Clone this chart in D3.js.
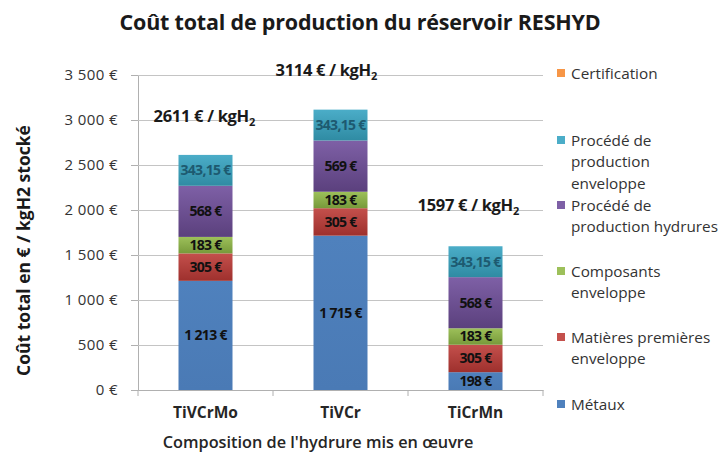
<!DOCTYPE html>
<html>
<head>
<meta charset="utf-8">
<script src="https://cdn.jsdelivr.net/npm/d3@7/dist/d3.min.js"></script>
<style>
  html, body { margin: 0; padding: 0; background: #fff; }
  svg text { font-family: "Open Sans", Lato, sans-serif; }
</style>
</head>
<body>
<svg id="chart" width="724" height="459"></svg>
<script>
// Hydride compositions (x categories)
const categories = ["TiVCrMo", "TiVCr", "TiCrMn"];

// Cost components, € / kgH2 stored, bottom to top of each stack
const metaux = [1213, 1715, 198];
const matieresPremieres = [305, 305, 305];
const composants = [183, 183, 183];
const procedeHydrures = [568, 569, 568];
const procedeEnveloppe = [343.15, 343.15, 343.15];
const certification = [0, 0, 0];

// Total cost shown above each bar
const totals = [2611, 3114, 1597];

// Y axis ticks
const yTicks = [0, 500, 1000, 1500, 2000, 2500, 3000, 3500];

const series = [
  { key: "Métaux", values: metaux, top: "#4F81BD", bottom: "#4A7AB5", text: "#111" },
  { key: "Matières premières enveloppe", values: matieresPremieres, top: "#C4504C", bottom: "#9E302D", text: "#111" },
  { key: "Composants enveloppe", values: composants, top: "#9DC05A", bottom: "#779A3A", text: "#111" },
  { key: "Procédé de production hydrures", values: procedeHydrures, top: "#7E60A6", bottom: "#5B407D", text: "#111" },
  { key: "Procédé de production enveloppe", values: procedeEnveloppe, top: "#4BADC8", bottom: "#2F8BA3", text: "#1D5A70" },
  { key: "Certification", values: certification, top: "#F79646", bottom: "#E0782A", text: "#111" }
];

// "1 213 €", "343,15 €"
const fmtLabel = v => (Number.isInteger(v)
  ? d3.format(",")(v).replace(/,/g, " ")
  : d3.format(".2f")(v).replace(".", ",")) + " €";

const svg = d3.select("#chart");
const margin = { left: 138, right: 181, top: 75, bottom: 69 };
const W = 724, H = 459;
const plotW = W - margin.left - margin.right;
const plotH = H - margin.top - margin.bottom;

const x = d3.scaleBand().domain(categories).range([margin.left, margin.left + plotW]).paddingInner(0.6).paddingOuter(0.3);
const xOuter = d3.scaleBand().domain(categories).range([margin.left, margin.left + plotW]).padding(0);
const y = d3.scaleLinear().domain([0, 3500]).range([margin.top + plotH, margin.top]);

// Gradients for the stacked segments
const defs = svg.append("defs");
series.forEach((s, i) => {
  const g = defs.append("linearGradient").attr("id", "grad" + i)
    .attr("x1", 0).attr("y1", 0).attr("x2", 0).attr("y2", 1);
  g.append("stop").attr("offset", "0%").attr("stop-color", s.top);
  g.append("stop").attr("offset", "100%").attr("stop-color", s.bottom);
});

// Title
svg.append("text")
  .attr("x", 360).attr("y", 30)
  .attr("text-anchor", "middle")
  .attr("font-size", 21.5).attr("font-weight", "bold").attr("fill", "#1a1a1a")
  .attr("letter-spacing", -0.2)
  .text("Coût total de production du réservoir RESHYD");

// Gridlines and y axis
const yAxis = d3.axisLeft(y).tickValues(yTicks).tickSize(7).tickPadding(13)
  .tickFormat(v => d3.format(",")(v).replace(/,/g, " ") + " €");
const gy = svg.append("g").attr("transform", `translate(${margin.left},0)`).call(yAxis);
gy.select(".domain").attr("stroke", "#b0b0b0");
gy.selectAll(".tick line").attr("stroke", "#b0b0b0");
gy.selectAll(".tick text").attr("font-size", 15).attr("fill", "#333")
  .attr("letter-spacing", 0.4).attr("font-family", "'Open Sans', sans-serif");
gy.selectAll(".tick").filter(d => d > 0).append("line")
  .attr("x1", 0).attr("x2", plotW).attr("stroke", "#c4c4c4").attr("stroke-width", 1.2);

// Stacked bars
const table = categories.map((c, i) => {
  const row = { cat: c };
  series.forEach(s => { row[s.key] = s.values[i]; });
  return row;
});
const stack = d3.stack().keys(series.map(s => s.key))(table);

stack.forEach((layer, li) => {
  const s = series[li];
  const g = svg.append("g");
  layer.forEach((d, i) => { d.value = s.values[i]; });
  g.selectAll("rect").data(layer).join("rect")
    .attr("x", d => x(d.data.cat))
    .attr("width", x.bandwidth())
    .attr("y", d => y(d[1]))
    .attr("height", d => y(d[0]) - y(d[1]))
    .attr("fill", `url(#grad${li})`);
  g.selectAll("text").data(layer.filter(d => d.value > 0)).join("text")
    .attr("x", d => x(d.data.cat) + x.bandwidth() / 2)
    .attr("y", d => (y(d[0]) + y(d[1])) / 2 + 5)
    .attr("text-anchor", "middle")
    .attr("font-size", 14).attr("font-weight", "bold")
    .attr("letter-spacing", -0.7)
    .attr("fill", s.text)
    .text(d => fmtLabel(d.value));
});

// X axis
const xAxis = d3.axisBottom(xOuter).tickSize(0).tickPadding(17);
const gx = svg.append("g").attr("transform", `translate(0,${margin.top + plotH})`).call(xAxis);
gx.select(".domain").attr("stroke", "#b0b0b0");
gx.selectAll(".tick text").attr("font-size", 15.5).attr("font-weight", "bold").attr("fill", "#262626")
  .attr("font-family", "'Open Sans', sans-serif");
// Category separators
const seps = [margin.left].concat(categories.map(c => xOuter(c) + xOuter.bandwidth()));
gx.selectAll(".sep").data(seps).join("line").attr("class", "sep")
  .attr("x1", d => d).attr("x2", d => d).attr("y1", 0).attr("y2", 6)
  .attr("stroke", "#b0b0b0");

// Axis titles
svg.append("text")
  .attr("transform", `translate(30,${y(1550)}) rotate(-90)`)
  .attr("text-anchor", "middle")
  .attr("font-size", 17.5).attr("font-weight", "bold").attr("fill", "#1a1a1a")
  .text("Coût total en € / kgH2 stocké");
svg.append("text")
  .attr("x", 318).attr("y", 448)
  .attr("text-anchor", "middle")
  .attr("font-size", 16.3).attr("font-weight", 600).attr("fill", "#262626")
  .text("Composition de l'hydrure mis en œuvre");

// Totals above the bars
const totalOffsets = [{ dx: -52, dy: -33 }, { dx: -65, dy: -34 }, { dx: -58, dy: -35 }];
totals.forEach((t, i) => {
  const txt = svg.append("text")
    .attr("x", x(categories[i]) + x.bandwidth() / 2 + totalOffsets[i].dx)
    .attr("y", y(t) + totalOffsets[i].dy)
    .attr("font-size", 16.5).attr("font-weight", "bold").attr("fill", "#1a1a1a")
    .attr("letter-spacing", -0.3);
  txt.append("tspan").text(t + " € / kgH");
  txt.append("tspan").attr("font-size", 11).attr("dy", 4).text("2");
});

// Legend (top to bottom mirrors the stack order)
const legendRows = [
  { s: 5, lines: ["Certification"], y: 73 },
  { s: 4, lines: ["Procédé de", "production", "enveloppe"], y: 140 },
  { s: 3, lines: ["Procédé de", "production hydrures"], y: 205 },
  { s: 2, lines: ["Composants", "enveloppe"], y: 271 },
  { s: 1, lines: ["Matières premières", "enveloppe"], y: 337 },
  { s: 0, lines: ["Métaux"], y: 404 }
];
const lg = svg.append("g");
legendRows.forEach(r => {
  lg.append("rect").attr("x", 557).attr("y", r.y - 4).attr("width", 8).attr("height", 8)
    .attr("fill", series[r.s].top);
  const t = lg.append("text").attr("x", 571).attr("y", r.y + 5.5)
    .attr("font-size", 15.3).attr("fill", "#333");
  r.lines.forEach((l, k) => {
    t.append("tspan").attr("x", 571).attr("dy", k === 0 ? 0 : 21.5).text(l);
  });
});
</script>
</body>
</html>
